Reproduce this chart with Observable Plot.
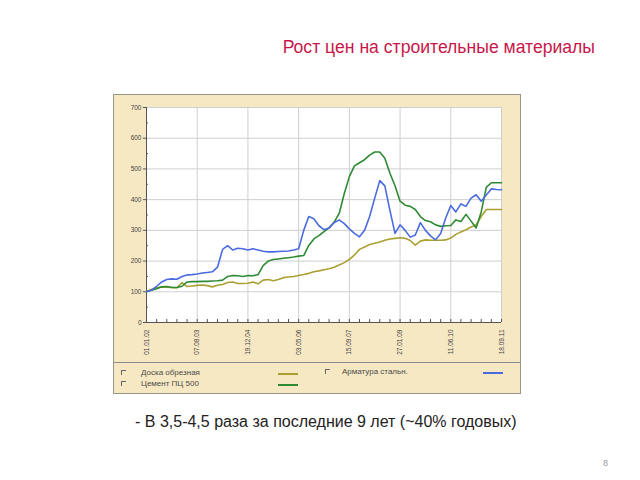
<!DOCTYPE html>
<html><head><meta charset="utf-8">
<script src="https://cdn.jsdelivr.net/npm/d3@7"></script>
<script src="https://cdn.jsdelivr.net/npm/@observablehq/plot@0.6"></script>
<style>
body{margin:0;background:#fff;width:640px;height:480px;position:relative;font-family:"Liberation Sans",Arial,sans-serif;overflow:hidden}
#title{position:absolute;left:0;width:595px;text-align:right;top:37px;font-size:17.6px;color:#c8174a}
#box{position:absolute;left:113px;top:94px;width:406px;height:298px;background:#f7e8c4;border:1px solid #9b968a}
#legend{position:absolute;left:0;top:267px;width:406px;height:31px;border-top:1px solid #8c8c8c;font-size:8px;color:#4a4a4a}
.it{position:absolute;white-space:nowrap}
.cb{position:absolute;width:4px;height:4px;border-top:1px solid #666;border-left:1px solid #666}
.sw{position:absolute;width:20px;height:2px}
#sub{position:absolute;left:135px;top:413px;font-size:16px;color:#222;white-space:nowrap}
#pg{position:absolute;left:603px;top:458px;font-size:9px;color:#999}
</style></head>
<body>
<div id="title">Рост цен на строительные материалы</div>
<div id="box"><div id="chart"></div><div id="legend"></div></div>
<div id="sub">- В 3,5-4,5 раза за последние 9 лет (~40% годовых)</div>
<div id="pg">8</div>
<script>
const dateLabels = ["01.01.02","07.08.03","19.12.04","03.05.06","15.09.07","27.01.09","11.06.10","18.09.11"];
const seriesNames = ["Доска обрезная","Цемент ПЦ 500","Арматура стальн."];
const seriesColors = ["#aaa032","#2f8a34","#4a6be0"];
const yTicks = [0,100,200,300,400,500,600,700];

// values sampled every 1/10 of a date-label interval
const doska = [101,108,113,116,115,114,113,130,117,119,121,122,120,116,121,124,130,132,127,127,128,132,126,138,140,136,140,146,148,150,153,156,160,165,168,172,175,180,187,195,205,220,238,246,254,258,262,268,272,274,276,274,267,252,265,269,268,268,268,269,275,287,295,302,311,318,345,368,368,368,368];
const cement = [101,105,110,116,117,114,114,118,132,133,133,134,134,135,136,138,150,153,152,150,153,152,156,185,200,205,207,209,211,213,216,218,251,272,283,296,308,327,355,420,475,510,520,530,545,555,555,535,486,445,395,382,378,368,345,332,328,318,313,315,316,334,329,352,330,308,360,440,455,455,455];
const armatura = [100,105,118,132,140,142,141,150,155,156,158,161,163,165,180,238,250,236,242,240,236,240,236,232,230,230,231,232,233,236,240,300,345,338,315,302,308,325,334,322,305,290,279,300,345,405,462,445,365,290,318,300,278,285,325,300,282,269,290,340,381,360,386,378,405,416,395,415,435,433,432];

const allSeries = [doska, cement, armatura];
const rows = allSeries.flatMap((vals, s) => vals.map((v, i) => ({t: i / 10, v, s: seriesNames[s]})));

const chart = Plot.plot({
  width: 406, height: 267,
  marginLeft: 32, marginRight: 19, marginTop: 12, marginBottom: 40,
  style: {background: "transparent", fontFamily: "Liberation Sans, Arial, sans-serif", fontSize: "6.5px", color: "#444", overflow: "visible"},
  x: {domain: [0, 7]},
  y: {domain: [0, 700]},
  color: {domain: seriesNames, range: seriesColors},
  marks: [
    Plot.frame({fill: "white", stroke: "none"}),
    Plot.gridX({ticks: d3.range(1, 8), stroke: "#cfcfcf", strokeOpacity: 1}),
    Plot.gridY({ticks: yTicks.slice(1), stroke: "#cfcfcf", strokeOpacity: 1}),
    Plot.axisY({ticks: yTicks, tickSize: 3, tickPadding: 2, label: null, stroke: "#555"}),
    Plot.axisY({ticks: d3.range(50, 700, 100), tickSize: 2, dx: 2, text: null, label: null, stroke: "#555"}),
    Plot.axisX({ticks: d3.range(0, 7.01, 0.2), tickSize: 3, dy: -3, text: null, label: null, stroke: "#555"}),
    Plot.axisX({ticks: d3.range(8), tickFormat: d => dateLabels[d], tickRotate: -90, tickSize: 0, tickPadding: 7, label: null}),
    Plot.ruleX([0], {stroke: "#555"}),
    Plot.ruleY([0], {stroke: "#555"}),
    Plot.line(rows, {x: "t", y: "v", z: "s", stroke: "s", strokeWidth: 1.6, curve: "linear"})
  ]
});
document.getElementById("chart").appendChild(chart);

const legend = document.getElementById("legend");
const legendPos = [[7, 27, 164, 6], [7, 27, 164, 17], [211, 228, 369, 5]];
seriesNames.forEach((name, i) => {
  const [cx, tx, sx, y] = legendPos[i];
  legend.insertAdjacentHTML("beforeend",
    `<div class="cb" style="left:${cx}px;top:${y + 1}px"></div>` +
    `<div class="it" style="left:${tx}px;top:${y - 1}px">${name}</div>` +
    `<div class="sw" style="left:${sx}px;top:${y + 4}px;background:${seriesColors[i]}"></div>`);
});
</script>
</body></html>
